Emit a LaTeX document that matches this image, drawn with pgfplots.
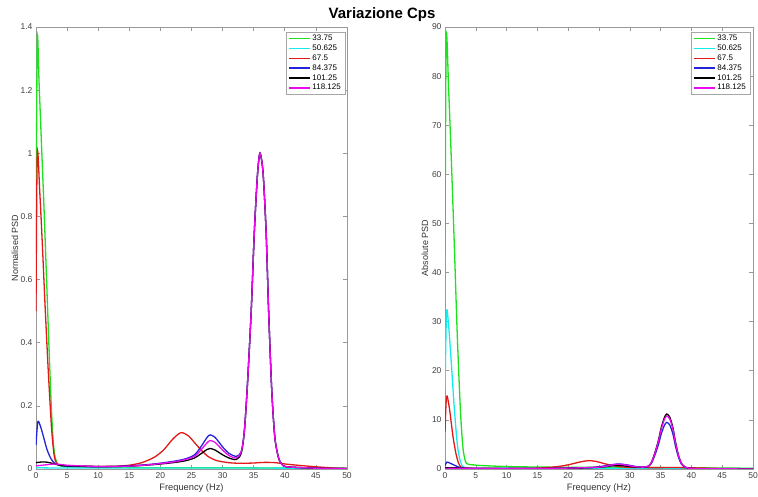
\documentclass[border=0pt]{standalone}
\usepackage{fontspec}
\setmainfont{Liberation Sans}
\usepackage{pgfplots}
\pgfplotsset{compat=1.18}
\definecolor{cgreen}{RGB}{30,225,30}
\definecolor{ccyan}{RGB}{20,235,235}
\definecolor{cred}{RGB}{225,25,25}
\definecolor{cblue}{RGB}{35,35,215}
\definecolor{cmag}{RGB}{235,10,235}
\pgfplotsset{
  psd/.style={
    scale only axis, height=442pt, anchor=south west,
    xmin=0, xmax=50, xtick={0,5,...,50},
    tick align=inside,
    axis line style={black!40, line width=0.6pt},
    tick style={black!40, line width=0.6pt},
    major tick length=4pt,
    /pgf/number format/assume math mode=true,
    every tick label/.append style={font=\fontsize{8.5}{10}\selectfont, text=black!75},
    xlabel={Frequency (Hz)},
    xlabel style={font=\fontsize{9.3}{11}\selectfont, text=black!80, at={(axis description cs:0.5,-0.043)}, anchor=center},
    ylabel style={font=\fontsize{9}{11}\selectfont, text=black!80, anchor=center},
    legend cell align=left,
    legend style={anchor=north east, draw=black!35, fill=white, font=\fontsize{8}{9}\selectfont, inner xsep=2.5pt, inner ysep=1.2pt, row sep=-0.2pt, nodes={inner sep=1.5pt}},
    legend image code/.code={\draw[#1,line width=1.3pt] (0pt,0pt) -- (21pt,0pt);},
    every axis plot/.append style={line width=1.3pt, smooth, tension=0.45, no marks},
  }
}
\begin{document}
\begin{tikzpicture}
\begin{axis}[psd, at={(36pt,28pt)}, width=311pt,
  ymin=0, ymax=1.4, ytick={0,0.2,...,1.4},
  yticklabels={0,0.2,0.4,0.6,0.8,1,1.2,1.4},
  ylabel={Normalised PSD},
  ylabel style={at={(axis description cs:-0.0675,0.5)}},
  legend style={at={(axis description cs:0.9936,0.9887)}}]
\addplot[cgreen] coordinates {(0,0.68)(0.2,1.36)(0.5,1.22)(0.9,1.02)(1.3,0.82)(1.7,0.6)(2.1,0.38)(2.5,0.18)(2.8,0.08)(3.1,0.035)(3.5,0.015)(4,0.009)(5,0.007)(10,0.005)(20,0.004)(30,0.004)(40,0.003)(50,0.002)};
\addplot[ccyan] coordinates {(0,0.004)(5,0.003)(20,0.003)(35,0.003)(50,0.002)};
\addplot[cred] coordinates {(0,0.5)(0.2,1.0)(0.6,0.88)(1.0,0.72)(1.5,0.5)(2.0,0.3)(2.5,0.13)(2.9,0.045)(3.3,0.018)(4,0.012)(5,0.01)(7,0.009)(10,0.008)(13,0.009)(15,0.012)(17,0.02)(19,0.037)(20.5,0.06)(22,0.095)(23.3,0.115)(24.5,0.105)(26,0.072)(27.5,0.042)(29,0.027)(31,0.02)(33,0.018)(35,0.019)(36.8,0.021)(38.5,0.02)(40,0.016)(42,0.012)(45,0.007)(48,0.003)(50,0.002)};
\addplot[cblue] coordinates {(0,0.075)(0.3,0.15)(0.8,0.13)(1.3,0.095)(1.8,0.06)(2.4,0.033)(3.0,0.018)(3.5,0.013)(4,0.011)(5,0.009)(7,0.008)(10,0.007)(13,0.008)(16,0.011)(19,0.016)(22,0.024)(24,0.032)(25.5,0.045)(26.5,0.07)(27.5,0.1)(28,0.108)(28.8,0.1)(30,0.07)(31,0.05)(32.2,0.04)(33,0.055)(33.5,0.12)(34,0.27)(34.6,0.5)(35.1,0.75)(35.6,0.93)(36.0,1.0)(36.5,0.94)(37.0,0.75)(37.4,0.5)(37.9,0.25)(38.4,0.1)(39,0.035)(39.6,0.013)(40.3,0.007)(43,0.004)(46,0.002)(50,0.001)};
\addplot[black] coordinates {(0,0.02)(0.8,0.022)(1.6,0.022)(2.4,0.019)(3.2,0.015)(4,0.012)(5,0.01)(7,0.009)(10,0.008)(13,0.008)(16,0.01)(19,0.014)(22,0.02)(24,0.026)(25.5,0.035)(26.5,0.048)(27.5,0.062)(28,0.065)(28.8,0.06)(30,0.045)(31,0.035)(32.2,0.03)(33,0.05)(33.5,0.12)(34,0.27)(34.6,0.5)(35.1,0.75)(35.6,0.93)(36.0,1.0)(36.5,0.94)(37.0,0.75)(37.4,0.5)(37.9,0.25)(38.4,0.1)(39,0.035)(39.6,0.013)(40.3,0.007)(43,0.004)(46,0.002)(50,0.001)};
\addplot[cmag] coordinates {(0,0.01)(1,0.012)(2,0.014)(3,0.016)(4,0.014)(5,0.012)(7,0.01)(10,0.008)(13,0.008)(16,0.01)(19,0.015)(22,0.022)(24,0.03)(25.5,0.04)(26.5,0.06)(27.5,0.083)(28,0.09)(28.8,0.084)(30,0.06)(31,0.043)(32.2,0.035)(33,0.055)(33.5,0.12)(34,0.27)(34.6,0.5)(35.1,0.75)(35.6,0.93)(36.0,1.0)(36.5,0.94)(37.0,0.75)(37.4,0.5)(37.9,0.25)(38.4,0.1)(39,0.035)(39.6,0.013)(40.3,0.007)(43,0.004)(46,0.002)(50,0.001)};
\legend{33.75,50.625,67.5,84.375,101.25,118.125}
\end{axis}
\begin{axis}[psd, at={(445pt,28pt)}, width=308pt,
  ymin=0, ymax=90, ytick={0,10,...,90},
  ylabel={Absolute PSD},
  ylabel style={at={(axis description cs:-0.065,0.5)}},
  legend style={at={(axis description cs:0.99,0.9887)}}]
\addplot[cgreen] coordinates {(0,44)(0.2,88)(0.6,77)(1.0,64)(1.5,46)(2.0,27)(2.5,12)(2.9,4.5)(3.3,1.6)(3.7,1.0)(4.5,0.85)(6,0.7)(10,0.5)(15,0.4)(20,0.35)(30,0.3)(40,0.25)(50,0.15)};
\addplot[ccyan] coordinates {(0,16)(0.25,32)(0.6,29)(1.0,22)(1.5,12.5)(2.0,5)(2.4,2)(2.8,0.6)(3.2,0.3)(5,0.2)(20,0.15)(50,0.1)};
\addplot[cred] coordinates {(0,7.5)(0.25,14.8)(0.7,12.5)(1.3,6.6)(1.8,3.0)(2.2,1.2)(2.6,0.4)(3.2,0.2)(5,0.15)(10,0.12)(15,0.18)(18,0.45)(20,0.85)(22,1.45)(23.3,1.7)(24.5,1.55)(26,1.05)(27.5,0.62)(29,0.4)(31,0.3)(35,0.28)(37,0.31)(40,0.24)(45,0.1)(50,0.03)};
\addplot[cblue] coordinates {(0,0.7)(0.3,1.4)(0.8,1.2)(1.4,0.85)(2,0.5)(2.6,0.25)(3.2,0.15)(5,0.08)(10,0.07)(16,0.1)(20,0.17)(24,0.32)(26,0.65)(28,1.02)(29.5,0.85)(31,0.5)(32.2,0.38)(33,0.52)(33.5,1.14)(34,2.57)(34.6,4.75)(35.1,7.12)(35.6,8.84)(36.0,9.5)(36.5,8.93)(37.0,7.12)(37.4,4.75)(37.9,2.38)(38.4,0.95)(39,0.33)(39.6,0.12)(40.3,0.07)(43,0.03)(50,0.01)};
\addplot[black] coordinates {(0,0.22)(0.8,0.25)(1.6,0.25)(2.4,0.21)(3.2,0.17)(4,0.13)(5,0.11)(7,0.1)(10,0.09)(13,0.09)(16,0.11)(19,0.16)(22,0.22)(24,0.29)(25.5,0.39)(26.5,0.54)(27.5,0.69)(28,0.73)(28.8,0.67)(30,0.5)(31,0.39)(32.2,0.34)(33,0.56)(33.5,1.34)(34,3.02)(34.6,5.6)(35.1,8.4)(35.6,10.42)(36.0,11.2)(36.5,10.53)(37.0,8.4)(37.4,5.6)(37.9,2.8)(38.4,1.12)(39,0.39)(39.6,0.15)(40.3,0.08)(43,0.04)(50,0.01)};
\addplot[cmag] coordinates {(0,0.11)(1,0.13)(2,0.15)(3,0.17)(4,0.15)(5,0.13)(7,0.11)(10,0.09)(13,0.09)(16,0.11)(19,0.16)(22,0.24)(24,0.32)(25.5,0.43)(26.5,0.65)(27.5,0.9)(28,0.97)(28.8,0.91)(30,0.65)(31,0.46)(32.2,0.38)(33,0.59)(33.5,1.3)(34,2.92)(34.6,5.4)(35.1,8.1)(35.6,10.04)(36.0,10.8)(36.5,10.15)(37.0,8.1)(37.4,5.4)(37.9,2.7)(38.4,1.08)(39,0.38)(39.6,0.14)(40.3,0.08)(43,0.04)(50,0.01)};
\legend{33.75,50.625,67.5,84.375,101.25,118.125}
\end{axis}
\node[font=\bfseries\fontsize{15}{15}\selectfont] at (382pt,482pt) {Variazione Cps};
\pgfresetboundingbox
\path[use as bounding box] (0pt,0pt) rectangle (758pt,497pt);
\end{tikzpicture}
\end{document}
